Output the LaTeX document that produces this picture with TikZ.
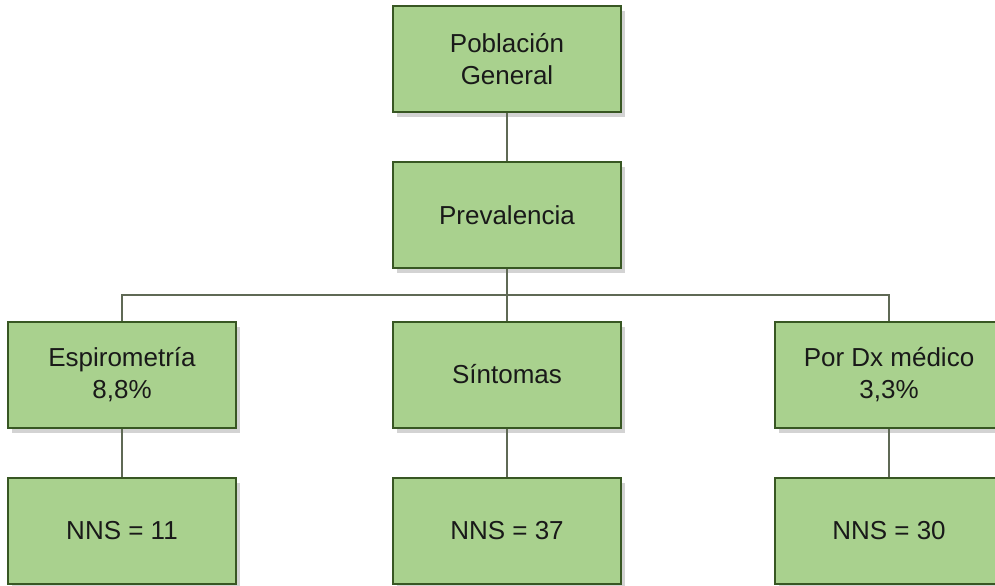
\documentclass[tikz,border=0pt]{standalone}
\usepackage{fontspec}
\setmainfont{Liberation Sans}
\usetikzlibrary{shadows}

\definecolor{boxfill}{RGB}{169,209,142}
\definecolor{boxline}{RGB}{56,87,35}
\definecolor{linkline}{RGB}{95,105,85}
\definecolor{boxtext}{RGB}{25,25,25}

\begin{document}
\begin{tikzpicture}[
        x=0.5pt, y=-0.5pt,
        box/.style={draw=boxline, line width=1pt, rectangle, fill=boxfill, text=boxtext,
            minimum width=114pt, minimum height=53pt, align=center,
            font=\fontsize{13}{16}\selectfont,
            drop shadow={shadow xshift=2pt, shadow yshift=-2.5pt, opacity=0.35}},
        link/.style={draw=linkline, line width=0.6pt}
    ]
        \useasboundingbox (0,0) rectangle (995,585);

        % Nodes
        \node[box] (poblacion) at (507, 59) {Población\\General};
        \node[box] (prev) at (507, 215) {Prevalencia};

        \node[box] (espiro) at (122, 374.5) {Espirometría\\8,8\%};
        \node[box] (sint) at (507, 374.5) {Síntomas};
        \node[box] (dx) at (889, 374.5) {Por Dx médico\\3,3\%};

        \node[box] (nnsA) at (122, 530.5) {NNS = 11};
        \node[box] (nnsB) at (507, 530.5) {NNS = 37};
        \node[box] (nnsC) at (889, 530.5) {NNS = 30};

        % Connectors
        \coordinate (split) at (507, 295);
        \draw[link] (poblacion.south) -- (prev.north);
        \draw[link] (prev.south) -- (split);
        \draw[link] (split) -| (espiro.north);
        \draw[link] (split) -- (sint.north);
        \draw[link] (split) -| (dx.north);

        \draw[link] (espiro.south) -- (nnsA.north);
        \draw[link] (sint.south) -- (nnsB.north);
        \draw[link] (dx.south) -- (nnsC.north);

    \end{tikzpicture}
\end{document}
